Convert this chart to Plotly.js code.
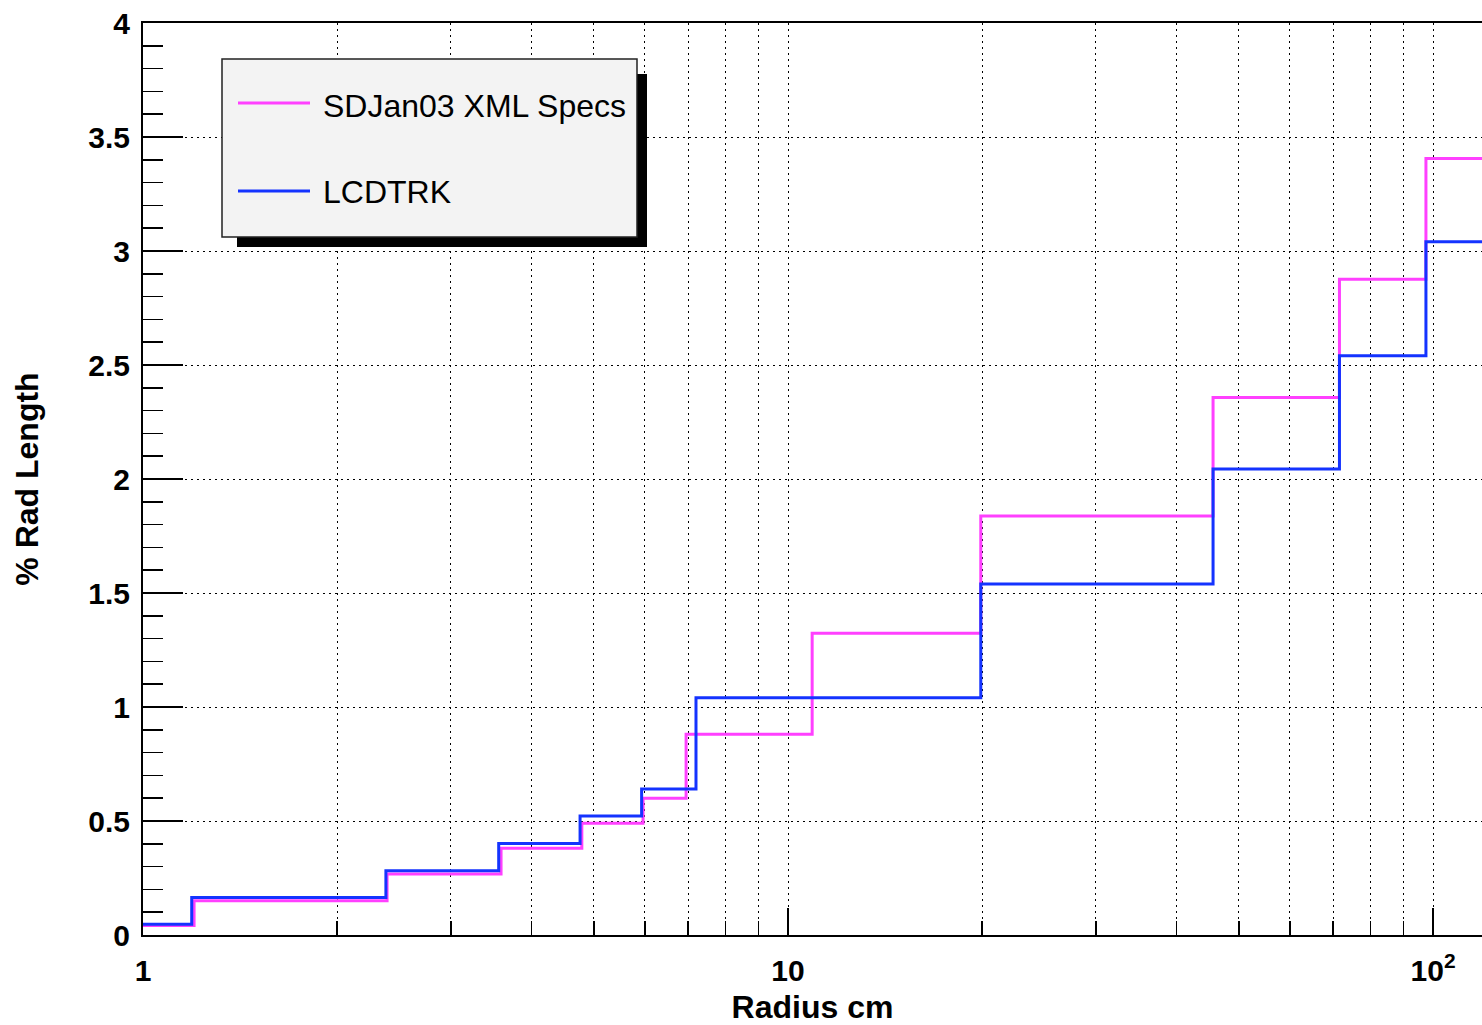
<!DOCTYPE html>
<html>
<head>
<meta charset="utf-8">
<script src="https://cdn.plot.ly/plotly-3.0.1.min.js"></script>
<style>html,body{margin:0;padding:0;background:#fff;}#chart{width:1482px;height:1025px;}</style>
</head>
<body>
<div id="chart"></div>
<script>
// ---- data ----
const seriesNames = ["SDJan03 XML Specs", "LCDTRK"];
// bin edges (Radius, cm) and step values (% Rad Length)
const sdEdges  = [1, 1.2, 2.39, 3.59, 4.79, 5.96, 6.95, 10.9, 19.9, 45.6, 71.6, 97.5, 120];
const sdValues = [0.042, 0.150, 0.268, 0.381, 0.490, 0.600, 0.880, 1.323, 1.838, 2.358, 2.876, 3.406];
const lcEdges  = [1, 1.19, 2.38, 3.56, 4.76, 5.93, 7.2, 19.9, 45.6, 71.6, 97.5, 120];
const lcValues = [0.047, 0.165, 0.282, 0.401, 0.522, 0.640, 1.041, 1.539, 2.044, 2.541, 3.041];
const xMajorTicks = [1, 10, 100];
const xMajorText  = ["1", "10", "10<sup>2</sup>"];
const xMinorTicks = [2, 3, 4, 5, 6, 7, 8, 9, 20, 30, 40, 50, 60, 70, 80, 90];

// ---- helpers ----
function stepXY(edges, values) {
  // 'hv' line shape: repeat last value at the final edge
  return { x: edges.slice(), y: values.concat([values[values.length - 1]]) };
}
const sd = stepXY(sdEdges, sdValues);
const lc = stepXY(lcEdges, lcValues);

const PINK = "#ff40ff";
const BLUE = "#1433ff";
const FONT = "Liberation Sans, Arial, Helvetica, sans-serif";

const traces = [
  { x: sd.x, y: sd.y, name: seriesNames[0], type: "scatter", mode: "lines",
    line: { shape: "hv", color: PINK, width: 3 }, showlegend: false },
  { x: lc.x, y: lc.y, name: seriesNames[1], type: "scatter", mode: "lines",
    line: { shape: "hv", color: BLUE, width: 3 }, showlegend: false }
];

// pixel -> paper helpers for the hand-drawn legend box
const L = 143, R = 1482, T = 23, B = 935;
const px = v => (v - L) / (R - L);
const py = v => (B - v) / (B - T);

const layout = {
  width: 1482, height: 1025,
  margin: { l: L, r: 1482 - R, t: T, b: 1025 - B },
  paper_bgcolor: "#fff", plot_bgcolor: "#fff",
  font: { family: FONT, color: "#000", size: 30 },
  showlegend: false,
  xaxis: {
    type: "log", range: [0, Math.log10(119.1)],
    tickmode: "array", tickvals: xMajorTicks, ticktext: xMajorText,
    ticks: "inside", ticklen: 27, tickwidth: 1.5, tickcolor: "#000",
    ticklabelstandoff: 8,
    tickfont: { family: FONT, size: 30, weight: "bold" },
    showline: true, linewidth: 2, linecolor: "#000", mirror: true,
    showgrid: true, gridcolor: "#000", gridwidth: 1, griddash: "2px,4px",
    minor: { tickmode: "array", tickvals: xMinorTicks, ticks: "inside", ticklen: 14,
             tickwidth: 1.5, tickcolor: "#000",
             showgrid: true, gridcolor: "#000", gridwidth: 1, griddash: "2px,4px" },
    zeroline: false,
    title: { text: "<b>Radius cm</b>", font: { family: FONT, size: 32 }, standoff: 10 }
  },
  yaxis: {
    range: [0, 4], dtick: 0.5, tick0: 0,
    ticks: "inside", ticklen: 40, tickwidth: 1.5, tickcolor: "#000",
    ticklabelstandoff: 5,
    tickfont: { family: FONT, size: 30, weight: "bold" },
    showline: true, linewidth: 2, linecolor: "#000", mirror: false,
    showgrid: true, gridcolor: "#000", gridwidth: 1, griddash: "2px,4px",
    minor: { dtick: 0.1, ticks: "inside", ticklen: 20, tickwidth: 1.5, tickcolor: "#000", showgrid: false },
    zeroline: false,
    title: { text: "<b>% Rad Length</b>", font: { family: FONT, size: 32 }, standoff: 40 }
  },
  shapes: [
    // legend shadow
    { type: "rect", xref: "paper", yref: "paper", layer: "above",
      x0: px(237), x1: px(647), y0: py(247), y1: py(74),
      fillcolor: "#000", line: { width: 0 } },
    // legend box
    { type: "rect", xref: "paper", yref: "paper", layer: "above",
      x0: px(222), x1: px(637), y0: py(237), y1: py(59),
      fillcolor: "#f3f3f3", line: { color: "#222", width: 1.5 } },
    // legend sample lines
    { type: "line", xref: "paper", yref: "paper", layer: "above",
      x0: px(238), x1: px(310), y0: py(103), y1: py(103), line: { color: PINK, width: 3 } },
    { type: "line", xref: "paper", yref: "paper", layer: "above",
      x0: px(238), x1: px(310), y0: py(191), y1: py(191), line: { color: BLUE, width: 3 } }
  ],
  annotations: [
    { xref: "paper", yref: "paper", x: px(321), y: py(106), xanchor: "left", yanchor: "middle",
      text: seriesNames[0], showarrow: false, font: { family: FONT, size: 32, color: "#000" } },
    { xref: "paper", yref: "paper", x: px(321), y: py(191.5), xanchor: "left", yanchor: "middle",
      text: seriesNames[1], showarrow: false, font: { family: FONT, size: 32, color: "#000" } }
  ]
};

Plotly.newPlot("chart", traces, layout, { displayModeBar: false, staticPlot: true });
</script>
</body>
</html>
